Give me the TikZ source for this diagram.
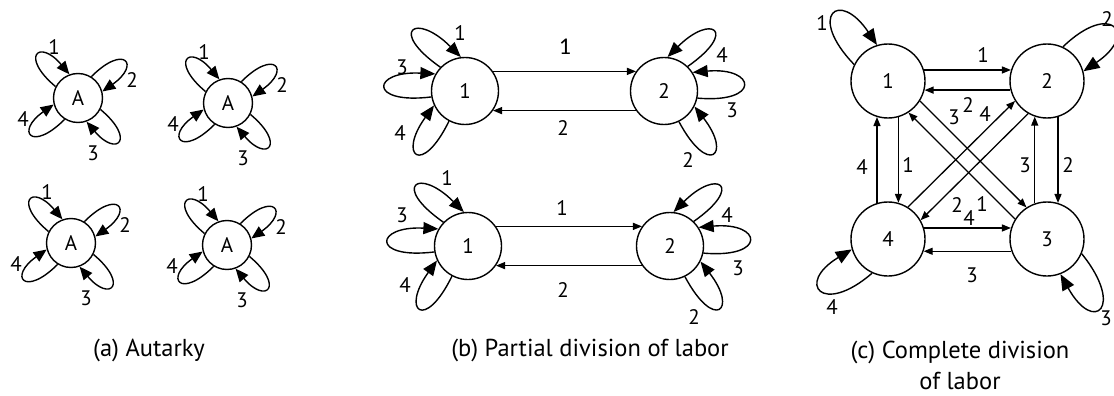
\documentclass[tikz,border=0pt]{standalone}
\usepackage{fontspec}
\setmainfont{PT Sans}
\newfontfamily\calibfont{Carlito}
\usetikzlibrary{arrows.meta}
\newcommand\lblfont{\fontsize{21}{25}\selectfont}
\newcommand\capfont{\fontsize{24.5}{31}\selectfont}
% style, node, out anchor, in anchor, out dir, in dir, distance
\newcommand\petal[7]{\draw[#1] (#2.#3) .. controls +(#5:#7pt) and +(#6:#7pt) .. (#2.#4);}
\begin{document}
\begin{tikzpicture}[x=1pt,y=1pt,
  stateA/.style={circle,draw,line width=1.4pt,minimum size=49pt,inner sep=0pt,font=\lblfont},
  stateB/.style={circle,draw,line width=1.4pt,minimum size=67pt,inner sep=0pt,font=\lblfont},
  stateC/.style={circle,draw,line width=1.4pt,minimum size=74pt,inner sep=0pt,font=\lblfont},
  petalA/.style={line width=1.4pt,-{Triangle[length=13pt,width=11pt]}},
  petalB/.style={line width=1.4pt,-{Triangle[length=15pt,width=12pt]}},
  petalC/.style={line width=1.4pt,-{Triangle[length=16pt,width=13pt]}},
  link/.style={line width=1.3pt,-{Triangle[length=9pt,width=7pt]}},
  lbl/.style={font=\lblfont,inner sep=0pt},
  captext/.style={font=\capfont,inner sep=0pt,align=center}]
\useasboundingbox (0,0) rectangle (1114,-396);

% ---------- (a) Autarky ----------
\foreach \n/\x/\y in {A1/78/98, A2/228/103, A3/71/243, A4/227/245} {
  \node[stateA] (\n) at (\x,-\y) {A};
  \petal{petalA}{\n}{153}{110}{140}{130}{47}
  \petal{petalA}{\n}{58}{15}{45}{35}{47}
  \petal{petalA}{\n}{333}{290}{320}{310}{47}
  \petal{petalA}{\n}{238}{195}{225}{215}{47}
  \node[lbl] (\n-l1) at ([shift={(-24,51)}]\n.center) {1};
  \node[lbl] (\n-l2) at ([shift={(54,18)}]\n.center) {2};
  \node[lbl] (\n-l3) at ([shift={(15,-55)}]\n.center) {3};
  \node[lbl] (\n-l4) at ([shift={(-55,-21)}]\n.center) {4};
}
\node[captext] (capA) at (149,-350) {(a) Autarky};

% ---------- (b) Partial division of labor ----------
\node[stateB] (B1) at (465,-91) {1};
\node[stateB] (B2) at (664,-91) {2};
\node[stateB] (B3) at (468,-246) {1};
\node[stateB] (B4) at (670,-246) {2};
\draw[link] (B1.35) -- (B2.145);
\draw[link] (B2.215) -- (B1.325);
\draw[link] (B3.35) -- (B4.145);
\draw[link] (B4.215) -- (B3.325);
\foreach \n in {B1,B3} {
  \petal{petalB}{\n}{136}{97}{145}{135}{64}
  \petal{petalB}{\n}{190}{150}{187}{177}{64}
  \petal{petalB}{\n}{242}{205}{244}{234}{62}
}
\foreach \n in {B2,B4} {
  \petal{petalB}{\n}{46}{84}{35}{45}{62}
  \petal{petalB}{\n}{348}{33}{355}{5}{64}
  \petal{petalB}{\n}{296}{333}{298}{308}{62}
}
\node[inner sep=0pt,font=\calibfont\fontsize{24}{28}\selectfont] (bt1) at (565,-47) {1};
\node[lbl] (bt2) at (563,-128) {2};
\node[lbl] (bb1) at (562,-208) {1};
\node[lbl] (bb2) at (563,-290) {2};
\node[lbl] (b1l1) at (460,-33) {1};
\node[lbl] (b1l3) at (402,-67) {3};
\node[lbl] (b1l4) at (400,-133) {4};
\node[lbl] (b2l4) at (722,-55) {4};
\node[lbl] (b2l3) at (732,-110) {3};
\node[lbl] (b2l2) at (688,-160) {2};
\node[lbl] (b3l1) at (447,-178) {1};
\node[lbl] (b3l3) at (402,-215) {3};
\node[lbl] (b3l4) at (405,-285) {4};
\node[lbl] (b4l4) at (727,-215) {4};
\node[lbl] (b4l3) at (738,-268) {3};
\node[lbl] (b4l2) at (694,-317) {2};
\node[captext] (capB) at (590,-350) {(b) Partial division of labor};

% ---------- (c) Complete division of labor ----------
\node[stateC] (C1) at (888,-81) {1};
\node[stateC] (C2) at (1047,-81) {2};
\node[stateC] (C4) at (888,-239) {4};
\node[stateC] (C3) at (1047,-239) {3};
\draw[link] (C1.17) -- (C2.163);
\draw[link] (C2.194) -- (C1.346);
\draw[link] (C4.17) -- (C3.163);
\draw[link] (C3.199) -- (C4.341);
\draw[link] (C1.286) -- (C4.74);
\draw[link] (C4.107) -- (C1.253);
\draw[link] (C2.287) -- (C3.73);
\draw[link] (C3.109) -- (C2.251);
\draw[link] (C1.328) -- (C3.123);
\draw[link] (C3.148) -- (C1.303);
\draw[link] (C2.240) -- (C4.30);
\draw[link] (C4.58) -- (C2.212);
\petal{petalC}{C1}{154}{107}{134}{124}{68}
\petal{petalC}{C2}{65}{15}{44}{34}{67}
\petal{petalC}{C4}{245}{196}{221}{211}{66}
\petal{petalC}{C3}{337}{291}{309}{299}{69}
\node[lbl] (c12) at (983,-55) {1};
\node[lbl] (c21) at (968,-105) {2};
\node[lbl] (c31) at (954,-117) {3};
\node[lbl] (c42) at (985,-114) {4};
\node[lbl] (c41) at (862,-167) {4};
\node[lbl] (c14) at (908,-165) {1};
\node[lbl] (c32) at (1025,-165) {3};
\node[lbl] (c23) at (1068,-165) {2};
\node[lbl] (c24) at (957,-205) {2};
\node[lbl] (c43) at (969,-218) {4};
\node[lbl] (c13) at (982,-204) {1};
\node[lbl] (c34) at (972,-275) {3};
\node[lbl] (c1l) at (822,-23) {1};
\node[lbl] (c2l) at (1107,-19) {2};
\node[lbl] (c4l) at (832,-307) {4};
\node[lbl] (c3l) at (1106,-318) {3};
\node[captext] (capC) at (960,-365) {(c) Complete division\\of labor};
\end{tikzpicture}
\end{document}
